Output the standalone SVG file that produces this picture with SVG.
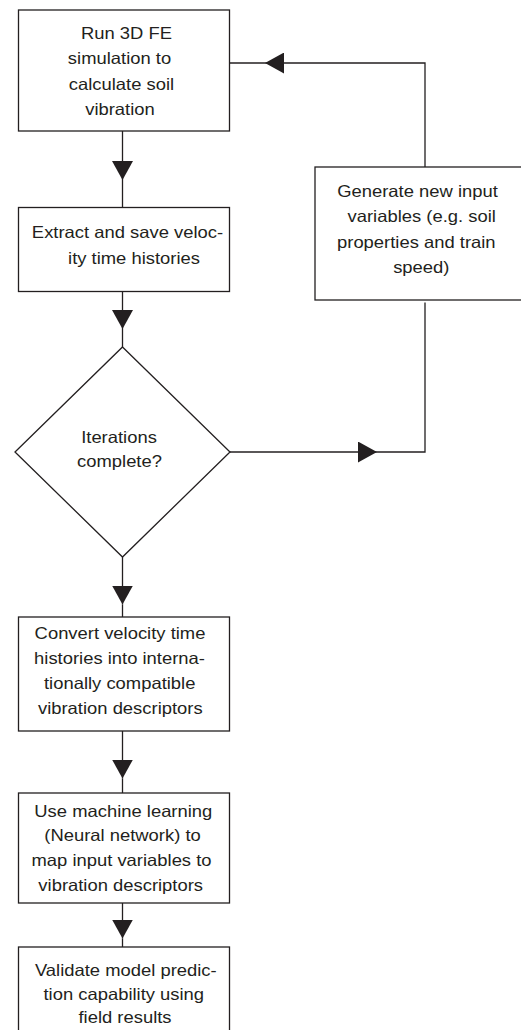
<svg xmlns="http://www.w3.org/2000/svg" width="521" height="1030" viewBox="0 0 521 1030">
<style>
.box{fill:#fff;stroke:#231f20;stroke-width:1.3}
.ln{fill:none;stroke:#231f20;stroke-width:1.3}
.ah{fill:#231f20;stroke:none}
text{font-family:"Liberation Sans",Arial,Helvetica,sans-serif;font-size:16.3px;fill:#231f20;text-anchor:middle}
</style>
<defs>
<marker id="arr" markerUnits="userSpaceOnUse" markerWidth="19" markerHeight="21" viewBox="0 0 19 21" refX="19" refY="10.5" orient="auto">
<path class="ah" d="M0,0 L19,10.5 L0,21 z"/>
</marker>
</defs>
<rect width="521" height="1030" fill="#fff"/>
<g id="connectors">
<path class="ln" d="M122.5,131 L122.5,180" marker-end="url(#arr)"/>
<path class="ln" d="M122.5,180 L122.5,207.5"/>
<path class="ln" d="M122.5,291.5 L122.5,329" marker-end="url(#arr)"/>
<path class="ln" d="M122.5,329 L122.5,347"/>
<path class="ln" d="M122.5,557 L122.5,604.5" marker-end="url(#arr)"/>
<path class="ln" d="M122.5,604.5 L122.5,617"/>
<path class="ln" d="M122.5,731 L122.5,778.5" marker-end="url(#arr)"/>
<path class="ln" d="M122.5,778.5 L122.5,793"/>
<path class="ln" d="M122.5,903 L122.5,938.5" marker-end="url(#arr)"/>
<path class="ln" d="M122.5,938.5 L122.5,947"/>
<path class="ln" d="M230,452 L377,452" marker-end="url(#arr)"/>
<path class="ln" d="M377,452 L425,452 L425,302.5"/>
<path class="ln" d="M425,167 L425,63 L265,63" marker-end="url(#arr)"/>
<path class="ln" d="M265,63 L229.5,63"/>
</g>
<g id="run-fe">
<rect class="box" x="18.5" y="10" width="211" height="121"/>
<text transform="translate(126.5,38.5) scale(1.13,1)">Run 3D FE</text>
<text transform="translate(119.5,64) scale(1.13,1)">simulation to</text>
<text transform="translate(121.5,89.5) scale(1.13,1)">calculate soil</text>
<text transform="translate(120,115) scale(1.13,1)">vibration</text>
</g>
<g id="extract">
<rect class="box" x="18.5" y="207.5" width="211" height="84"/>
<text transform="translate(127.5,238) scale(1.13,1)">Extract and save veloc-</text>
<text transform="translate(134,263.5) scale(1.13,1)">ity time histories</text>
</g>
<g id="iterations">
<polygon class="box" points="122.5,347 230,452 122.5,557 15,452"/>
<text transform="translate(119,442.5) scale(1.13,1)">Iterations</text>
<text transform="translate(119.5,467) scale(1.13,1)">complete?</text>
</g>
<g id="generate">
<rect class="box" x="315" y="167" width="220" height="133"/>
<text transform="translate(417.5,196.5) scale(1.13,1)">Generate new input</text>
<text transform="translate(421.7,222) scale(1.13,1)">variables (e.g. soil</text>
<text transform="translate(416.3,247.5) scale(1.13,1)">properties and train</text>
<text transform="translate(421.3,272.5) scale(1.13,1)">speed)</text>
</g>
<g id="convert">
<rect class="box" x="18.5" y="617" width="211" height="114"/>
<text transform="translate(120,638.5) scale(1.13,1)">Convert velocity time</text>
<text transform="translate(119.5,663.5) scale(1.13,1)">histories into interna-</text>
<text transform="translate(119.7,688.5) scale(1.13,1)">tionally compatible</text>
<text transform="translate(120.3,713.5) scale(1.13,1)">vibration descriptors</text>
</g>
<g id="ml">
<rect class="box" x="18.5" y="793" width="211" height="110"/>
<text transform="translate(123.3,816.5) scale(1.13,1)">Use machine learning</text>
<text transform="translate(122.5,841) scale(1.13,1)">(Neural network) to</text>
<text transform="translate(121.5,865.5) scale(1.13,1)">map input variables to</text>
<text transform="translate(120.7,890.5) scale(1.13,1)">vibration descriptors</text>
</g>
<g id="validate">
<rect class="box" x="18.5" y="947" width="211" height="100"/>
<text transform="translate(125.8,975.5) scale(1.13,1)">Validate model predic-</text>
<text transform="translate(123.8,999.5) scale(1.13,1)">tion capability using</text>
<text transform="translate(125,1023) scale(1.13,1)">field results</text>
</g>
</svg>
